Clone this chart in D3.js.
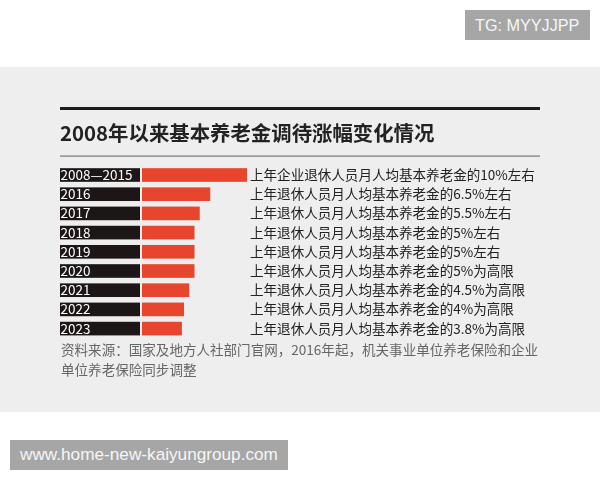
<!DOCTYPE html>
<html>
<head>
<meta charset="utf-8">
<script src="https://cdnjs.cloudflare.com/ajax/libs/d3/7.8.5/d3.min.js"></script>
<style>
  html, body { margin: 0; padding: 0; background: #fff; }
  svg { display: block; }
  text { font-family: "Noto Sans CJK SC", sans-serif; }
</style>
</head>
<body>
<svg id="chart" width="600" height="480"></svg>
<script>
const years = ['2008—2015', '2016', '2017', '2018', '2019', '2020', '2021', '2022', '2023'];
const rates = [10, 6.5, 5.5, 5, 5, 5, 4.5, 4, 3.8];
const notes = [
  '上年企业退休人员月人均基本养老金的10%左右',
  '上年退休人员月人均基本养老金的6.5%左右',
  '上年退休人员月人均基本养老金的5.5%左右',
  '上年退休人员月人均基本养老金的5%左右',
  '上年退休人员月人均基本养老金的5%左右',
  '上年退休人员月人均基本养老金的5%为高限',
  '上年退休人员月人均基本养老金的4.5%为高限',
  '上年退休人员月人均基本养老金的4%为高限',
  '上年退休人员月人均基本养老金的3.8%为高限'
];
const title = '2008年以来基本养老金调待涨幅变化情况';
const source = [
  '资料来源：国家及地方人社部门官网，2016年起，机关事业单位养老保险和企业',
  '单位养老保险同步调整'
];

const svg = d3.select('#chart');

// the chart itself is a slightly soft screenshot in the original
svg.append('filter').attr('id', 'soft')
  .append('feGaussianBlur').attr('stdDeviation', 0.3);

// grey panel
svg.append('rect').attr('x', 0).attr('y', 67).attr('width', 600).attr('height', 345).attr('fill', '#eeeeee');

// watermark labels
svg.append('rect').attr('x', 465).attr('y', 10).attr('width', 125).attr('height', 30).attr('fill', '#a6a6a6');
svg.append('text').attr('x', 475).attr('y', 31).attr('fill', '#f6f6f6')
  .style('font-family', 'Liberation Sans').style('font-size', '16.2px').text('TG: MYYJJPP');
svg.append('rect').attr('x', 10).attr('y', 440).attr('width', 278).attr('height', 30).attr('fill', '#a6a6a6');
svg.append('text').attr('x', 20).attr('y', 460).attr('fill', '#f6f6f6')
  .style('font-family', 'Liberation Sans').style('font-size', '17.2px').text('www.home-new-kaiyungroup.com');

const chart = svg.append('g').attr('filter', 'url(#soft)');

// title and rules
chart.append('rect').attr('x', 60).attr('y', 107).attr('width', 480).attr('height', 3).attr('fill', '#1c1a1a');
chart.append('text').attr('x', 60).attr('y', 141).attr('fill', '#222')
  .style('font-size', '20.4px').style('font-weight', 700).text(title);
chart.append('rect').attr('x', 60).attr('y', 155.5).attr('width', 480).attr('height', 1.2).attr('fill', '#777');

const xScale = d3.scaleLinear().domain([0, 10]).range([142, 247]);
const yScale = d3.scaleBand().domain(years).range([165.4, 338.2]).paddingInner(0.29).paddingOuter(0.145);

const rows = chart.selectAll('g.row').data(years).enter().append('g').attr('class', 'row');

rows.append('rect')
  .attr('x', 60)
  .attr('y', d => yScale(d))
  .attr('width', 80)
  .attr('height', yScale.bandwidth())
  .attr('fill', '#1c1515');

rows.append('text')
  .attr('x', 60.5)
  .attr('y', d => yScale(d) + yScale.bandwidth() / 2 + 5)
  .attr('fill', '#fff')
  .style('font-size', '13.5px')
  .text(d => d);

rows.append('rect')
  .attr('x', xScale(0))
  .attr('y', d => yScale(d))
  .attr('width', (d, i) => xScale(rates[i]) - xScale(0))
  .attr('height', yScale.bandwidth())
  .attr('fill', '#e8452d');

rows.append('text')
  .attr('x', 250)
  .attr('y', d => yScale(d) + yScale.bandwidth() / 2 + 5)
  .attr('fill', '#222')
  .style('font-size', '13.55px')
  .text((d, i) => notes[i]);

// source note
chart.selectAll('text.source').data(source).enter().append('text')
  .attr('class', 'source')
  .attr('x', 61)
  .attr('y', (d, i) => 355 + i * 20)
  .attr('fill', '#666')
  .style('font-size', '13.55px')
  .text(d => d);
</script>
</body>
</html>
